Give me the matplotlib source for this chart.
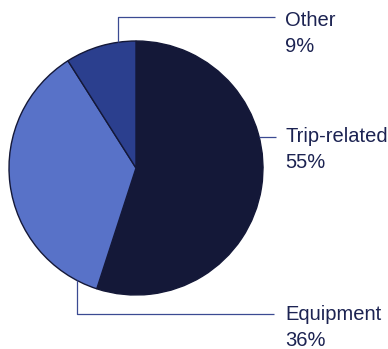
import numpy as np
import matplotlib.pyplot as plt

# share of incidents by cause
labels = ["Trip-related", "Equipment", "Other"]
shares = [55, 36, 9]
colors = ["#141838", "#5872c8", "#2b3f8e"]

W, H = 388, 349
fig = plt.figure(figsize=(W / 100, H / 100), dpi=100)
ax = fig.add_axes([0, 0, 1, 1])

cx, cy, r = 136, H - 168, 127
ax.pie(shares, colors=colors, startangle=90, counterclock=False,
       center=(cx, cy), radius=r, frame=True,
       wedgeprops=dict(edgecolor="#141838", linewidth=1.0))
ax.set_xlim(0, W)
ax.set_ylim(0, H)
ax.set_aspect("equal")
ax.axis("off")

line_kw = dict(color="#3b4a92", lw=0.9, solid_capstyle="butt")
text_kw = dict(fontsize=14.5, color="#1c2352", family="Liberation Sans",
               va="center", ha="left")
tx = 285


def edge_point(x):
    return x, cy + np.sqrt(r ** 2 - (x - cx) ** 2)


# Other: up from the top edge, then right
x0, y0 = edge_point(118)
ly = H - 17
ax.plot([x0, x0, 275], [y0, ly, ly], **line_kw)
ax.text(tx, H - 21, labels[2], **text_kw)
ax.text(tx, H - 47, f"{shares[2]}%", **text_kw)

# Trip-related: short stub from the right edge
ty = H - 137
ax.plot([cx + np.sqrt(r ** 2 - (ty - cy) ** 2), 276], [ty, ty], **line_kw)
ax.text(tx, H - 137, labels[0], **text_kw)
ax.text(tx, H - 163, f"{shares[0]}%", **text_kw)

# Equipment: down from the lower-left edge, then right
ex = 77
ey0 = cy - np.sqrt(r ** 2 - (ex - cx) ** 2)
ly = H - 314
ax.plot([ex, ex, 274], [ey0, ly, ly], **line_kw)
ax.text(tx, H - 315, labels[1], **text_kw)
ax.text(tx, H - 341, f"{shares[1]}%", **text_kw)

fig.savefig("out.png", dpi=100, facecolor="white")
